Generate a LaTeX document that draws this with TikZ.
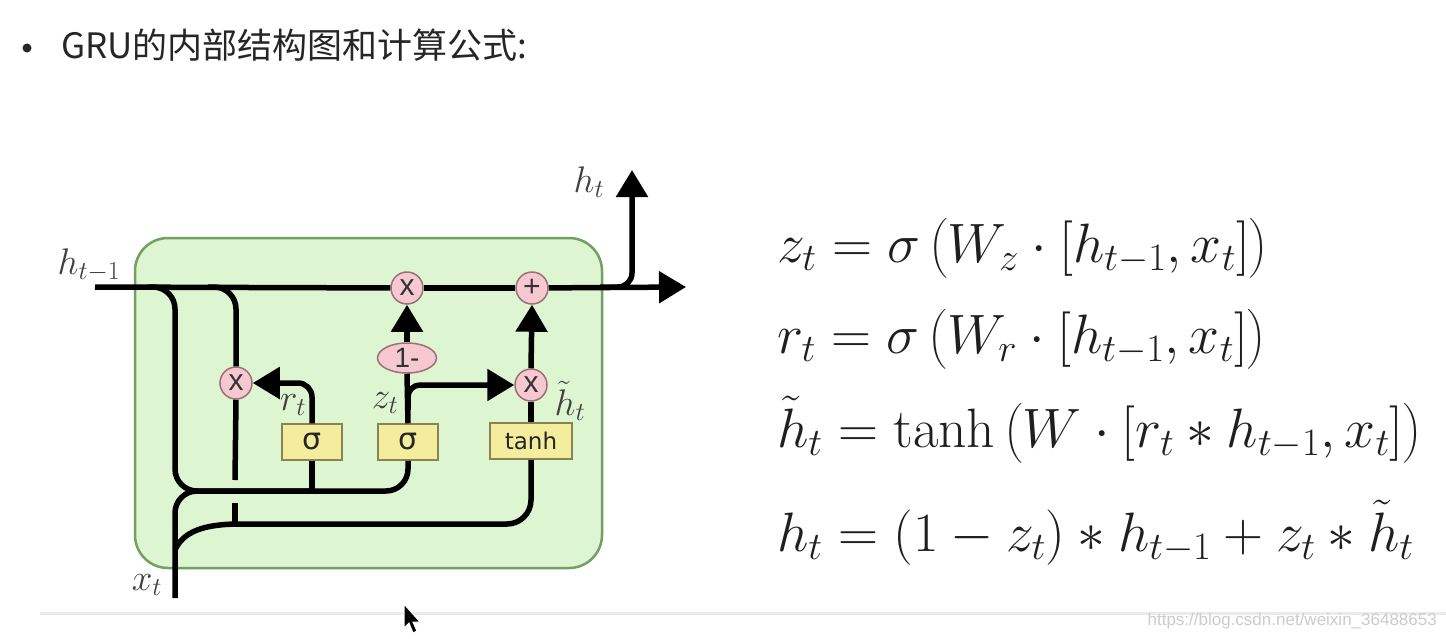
\documentclass[tikz,border=0pt]{standalone}
\usepackage{fix-cm}
\usepackage{exscale}
\usepackage{fontspec}
\newfontfamily\cjk{Noto Sans CJK SC}
\newfontfamily\arialf{Liberation Sans}
\newfontfamily\djv{DejaVu Sans}
\usetikzlibrary{arrows.meta,shapes.geometric}
\delimitershortfall=-2pt
\definecolor{boxgreen}{HTML}{DDF5D0}
\definecolor{boxgreenline}{HTML}{72A062}
\definecolor{opink}{HTML}{F6C8D0}
\definecolor{opinkline}{HTML}{9C7078}
\definecolor{gyellow}{HTML}{F5ED9E}
\definecolor{gyellowline}{HTML}{8A8350}
\tikzset{
  wire/.style={line width=5.5pt, black},
  arr/.style={-{Triangle[length=27pt,width=31pt]}},
  op/.style={circle, draw=opinkline, line width=1.5pt, fill=opink, minimum size=32pt, inner sep=0pt, font=\arialf\fontsize{30}{30}\selectfont, text=black!80},
  gate/.style={rectangle, draw=gyellowline, line width=1.5pt, fill=gyellow, minimum height=36pt, inner sep=0pt, text=black!85},
  lab/.style={inner sep=0pt, text=black!75, font=\fontsize{37}{42}\selectfont},
  eq/.style={inner sep=0pt, anchor=base west, text=black!88, font=\fontsize{55.5}{64}\selectfont},
}
\begin{document}
\begin{tikzpicture}[x=1pt,y=-1pt]
\useasboundingbox (0,0) rectangle (1446,638);
\fill[white] (0,0) rectangle (1446,638);
% title
\fill[black!85] (27,48) circle (4.5pt);
\node[anchor=west, inner sep=0pt, text=black!85, font=\cjk\fontsize{35}{40}\selectfont] (title) at (61,45) {GRU的内部结构图和计算公式:};
% green cell
\draw[fill=boxgreen, draw=boxgreenline, line width=2.5pt, rounded corners=33pt] (135,238) rectangle (602,568);
% nodes
\node[op] (mulA) at (407,288) {x};
\node[op] (plus) at (532,288) {+};
\node[op] (mulR) at (236,383) {x};
\node[op] (mulH) at (531,385) {x};
\node[ellipse, draw=opinkline, line width=1.5pt, fill=opink, minimum width=59pt, minimum height=30pt, inner sep=0pt, font=\arialf\fontsize{28}{28}\selectfont, text=black!80] (oneM) at (407,358) {1-};
\node[gate, minimum width=60pt, font=\djv\fontsize{30}{30}\selectfont] (sigR) at (312,442) {σ};
\node[gate, minimum width=60pt, font=\djv\fontsize{30}{30}\selectfont] (sigZ) at (408,442) {σ};
\node[gate, minimum width=82pt, font=\djv\fontsize{23}{23}\selectfont] (tanhB) at (531,441) {tanh};
% coordinates
\coordinate (hin) at (95,287);
\coordinate (hout) at (686,287);
\coordinate (bo) at (600,287);
\coordinate (htop) at (632,170);
\coordinate (b1) at (148,287);
\coordinate (b2) at (208,287);
\coordinate (zjoin) at (175,491);
\coordinate (xbot) at (175,598);
\coordinate (s0) at (175,550);
\coordinate (s3) at (240,524);
\coordinate (gapT) at (235,480);
\coordinate (gapB) at (235,503);
\coordinate (zb) at (408,410);
% wires
\draw[wire] (hin) -- (mulA);
\draw[wire] (mulA) -- (plus);
\draw[wire,arr] (plus) -- (hout);
\draw[wire,arr,rounded corners=14pt] (bo) -| (htop);
\draw[wire,rounded corners=22pt] (b1) -| (zjoin) -| (sigZ.south);
\draw[wire,rounded corners=22pt] (xbot) |- (sigR.south |- zjoin);
\draw[wire] (sigR.south) -- (sigR.south |- zjoin);
\draw[wire] (s0) .. controls (183,532) and (203,524) .. (s3);
\draw[wire,rounded corners=24pt] (s3) -| (tanhB.south);
\draw[wire,rounded corners=22pt] (b2) -| (mulR.north);
\draw[wire] (mulR.south) -- (gapT);
\draw[wire] (gapB) -- (gapB |- s3);
\draw[wire,arr,rounded corners=14pt] (sigR.north) |- (mulR.east);
\draw[wire] (sigZ.north) -- (oneM.south);
\draw[wire,arr] (oneM.north) -- (mulA.south);
\draw[wire,arr,rounded corners=12pt] (zb) |- (mulH.west);
\draw[wire] (tanhB.north) -- (mulH.south);
\draw[wire,arr] (mulH.north) -- (plus.south);
% labels
\node[lab] (lhp) at (89,265) {$h_{t-1}$};
\node[lab] (lht) at (589,182) {$h_t$};
\node[lab] (lxt) at (147,585) {$x_t$};
\node[lab] (lrt) at (293,405) {$r_t$};
\node[lab] (lzt) at (385,403) {$z_t$};
\node[lab] (lhtt) at (570,401) {$\tilde{h}_t$};
% equations
\node[eq] (e1) at (777,262) {$z_t = \sigma\left(W_z\cdot[h_{t-1},x_t]\right)$};
\node[eq] (e2) at (777,353) {$r_t = \sigma\left(W_r\cdot[h_{t-1},x_t]\right)$};
\node[eq] (e3) at (777,447) {$\tilde{h}_t = \tanh\left(W\cdot[r_t*h_{t-1},x_t]\right)$};
\node[eq] (e4) at (777,551) {$h_t = (1-z_t)*h_{t-1}+z_t*\tilde{h}_t$};
% footer
\draw[black!8, line width=3pt] (40,613) -- (1446,613);
\node[anchor=east, inner sep=0pt, text=black!20, font=\arialf\fontsize{17}{20}\selectfont] (wm) at (1437,621) {https://blog.csdn.net/weixin\_36488653};
% cursor
\filldraw[fill=black, draw=white, line width=1pt] (404,604) -- (404,628) -- (409,623) -- (413,633) -- (417,631) -- (413,622) -- (420,622) -- cycle;
\end{tikzpicture}
\end{document}
